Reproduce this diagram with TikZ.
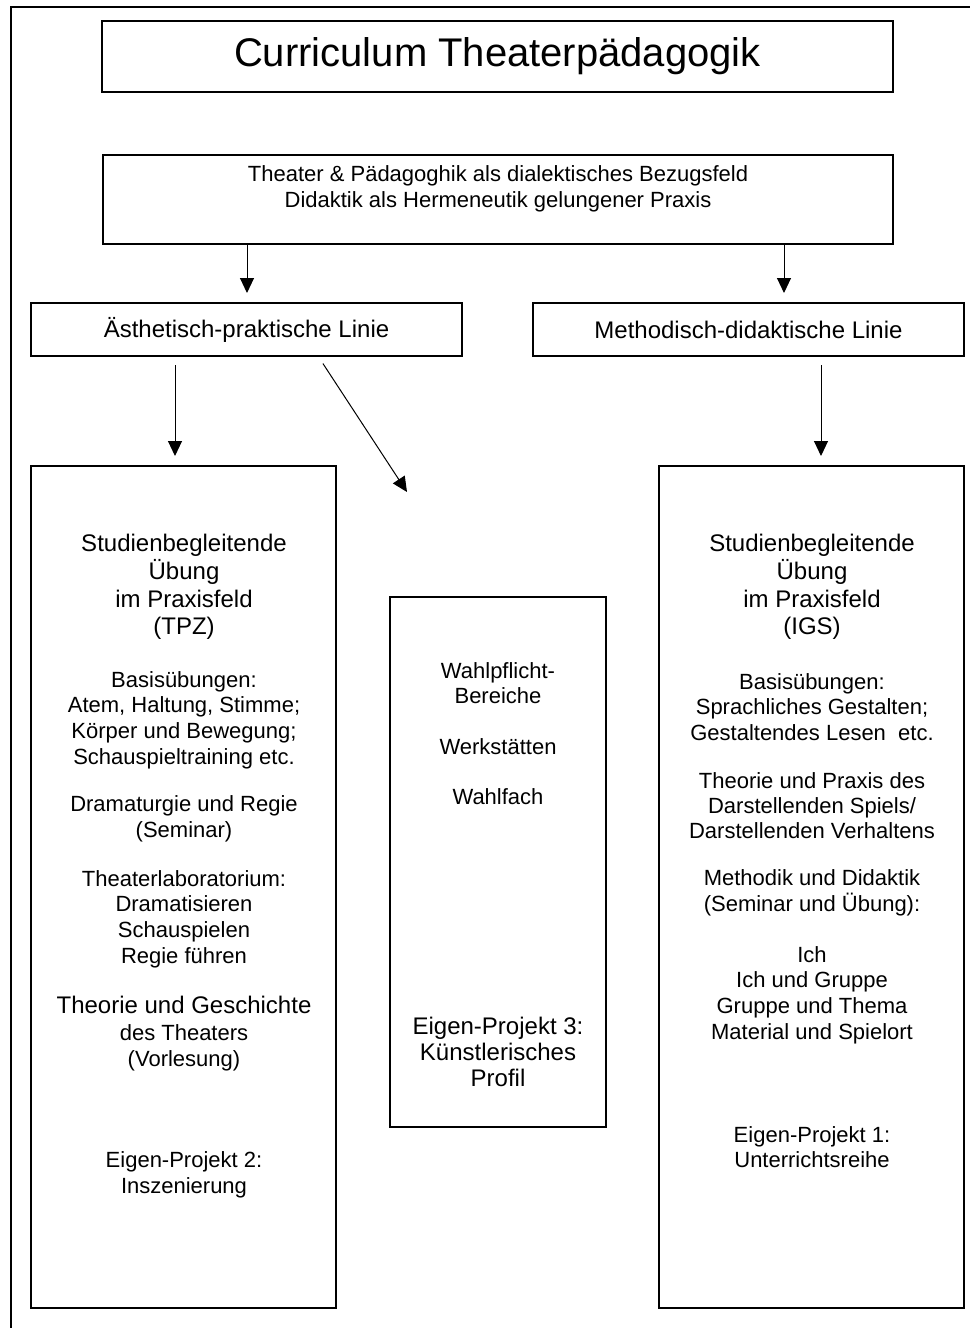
\documentclass[tikz,border=0pt]{standalone}
\usepackage{fontspec}
\setmainfont{Liberation Sans}
\usetikzlibrary{arrows.meta,calc}
\newcommand\fsz[2]{\fontsize{#1}{#2}\selectfont}
\begin{document}
\begin{tikzpicture}[x=1pt,y=-1pt,
  box/.style={draw=black,line width=1.2pt,rectangle,inner sep=0pt,outer sep=0pt,anchor=north west},
  txt/.style={inner sep=0pt,align=center,font=\fsz{22}{25.7}},
  arr/.style={line width=1pt,-{Triangle[length=15pt,width=14pt]}}]
\useasboundingbox (0,0) rectangle (970,1328);
% page frame
\draw[line width=1.2pt] (11,1328) -- (11,7) -- (970,7);
% boxes
\node[box,minimum width=791pt,minimum height=71pt,font=\fsz{40}{44}] (title) at (102,21) {Curriculum Theaterpädagogik};
\node[box,minimum width=790pt,minimum height=89pt] (ref) at (103,155) {};
\node[txt] (reft) at (498,189) {Theater \& Pädagoghik als dialektisches Bezugsfeld\\Didaktik als Hermeneutik gelungener Praxis};
\node[box,minimum width=431pt,minimum height=53pt,font=\fsz{24}{28}] (aest) at (31,303) {Ästhetisch-praktische Linie};
\node[box,minimum width=431pt,minimum height=53pt,font=\fsz{24}{28}] (meth) at (533,303) {Methodisch-didaktische Linie};
\node[box,minimum width=305pt,minimum height=842pt] (tpz) at (31,466) {};
\node[box,minimum width=216pt,minimum height=530pt] (mid) at (390,597) {};
\node[box,minimum width=305pt,minimum height=842pt] (igs) at (659,466) {};
% arrows
\draw[arr,shorten >=10pt] (ref.south -| 247,0) -- (aest.north -| 247,0);
\draw[arr,shorten >=10pt] (ref.south -| 784,0) -- (meth.north -| 784,0);
\draw[arr,shorten <=9pt,shorten >=10pt] (aest.south -| 175,0) -- (tpz.north -| 175,0);
\draw[arr,shorten <=9pt,shorten >=10pt] (meth.south -| 821,0) -- (igs.north -| 821,0);
\coordinate (diagend) at (407,492);
\draw[arr,shorten <=9pt] (aest.south -| 318,0) -- (diagend);
% left column text
\node[txt,font=\fsz{24}{27.7}] (l1) at (184,587) {Studienbegleitende\\Übung\\im Praxisfeld\\(TPZ)};
\node[txt] (l2) at (184,720) {Basisübungen:\\Atem, Haltung, Stimme;\\Körper und Bewegung;\\Schauspieltraining etc.};
\node[txt] (l3) at (184,819) {Dramaturgie und Regie\\(Seminar)};
\node[txt] (l4) at (184,919) {Theaterlaboratorium:\\Dramatisieren\\Schauspielen\\Regie führen};
\node[txt,font=\fsz{22}{26.5}] (l5) at (184,1034) {{\fsz{24}{26.5}Theorie und Geschichte}\\des Theaters\\(Vorlesung)};
\node[txt] (l6) at (184,1175) {Eigen-Projekt 2:\\Inszenierung};
% middle text
\node[txt,font=\fsz{22}{24.5}] (m1) at (498,683) {Wahlpflicht-\\Bereiche};
\node[txt] (m2) at (498,747) {Werkstätten};
\node[txt] (m3) at (498,797) {Wahlfach};
\node[txt,font=\fsz{24}{26}] (m4) at (498,1052) {Eigen-Projekt 3:\\Künstlerisches\\Profil};
% right column text
\node[txt,font=\fsz{24}{27.7}] (r1) at (812,587) {Studienbegleitende\\Übung\\im Praxisfeld\\(IGS)};
\node[txt] (r2) at (812,707) {Basisübungen:\\Sprachliches Gestalten;\\Gestaltendes Lesen~~etc.};
\node[txt,font=\fsz{22}{25}] (r3) at (812,806) {Theorie und Praxis des\\Darstellenden Spiels/\\Darstellenden Verhaltens};
\node[txt] (r4) at (812,893) {Methodik und Didaktik\\(Seminar und Übung):};
\node[txt] (r5) at (812,995) {Ich\\Ich und Gruppe\\Gruppe und Thema\\Material und Spielort};
\node[txt] (r6) at (812,1147) {Eigen-Projekt 1:\\Unterrichtsreihe};
\end{tikzpicture}
\end{document}
